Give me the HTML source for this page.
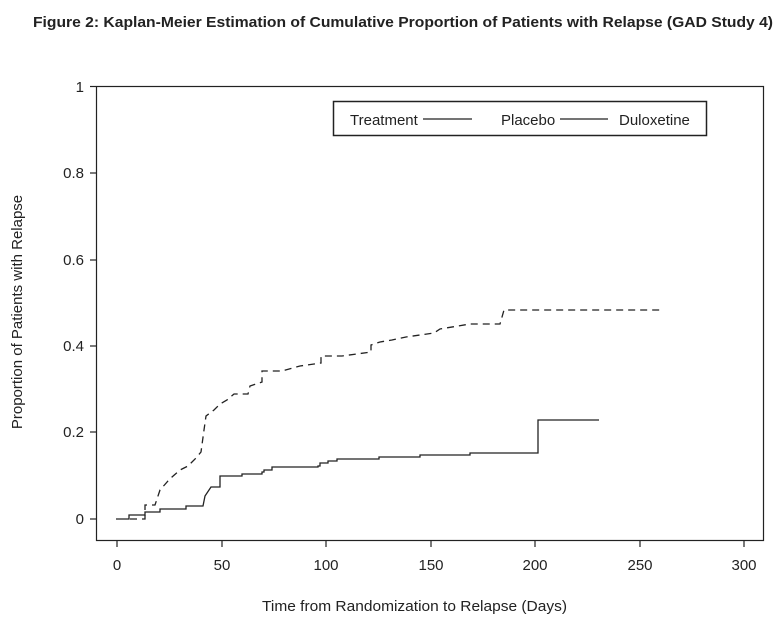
<!DOCTYPE html><html><head><style>body{margin:0;background:#fff}svg{display:block}text{font-family:"Liberation Sans",sans-serif;fill:#222}</style></head><body>
<svg width="778" height="623" viewBox="0 0 778 623">
<text x="33" y="27" font-size="15" font-weight="bold" textLength="740" lengthAdjust="spacingAndGlyphs">Figure 2: Kaplan-Meier Estimation of Cumulative Proportion of Patients with Relapse (GAD Study 4)</text>
<rect x="96.5" y="86.5" width="667" height="454" fill="none" stroke="#222" stroke-width="1.2"/>
<g stroke="#222" stroke-width="1.2">
<line x1="90" y1="86.5" x2="96" y2="86.5"/><line x1="90" y1="173" x2="96" y2="173"/><line x1="90" y1="260" x2="96" y2="260"/><line x1="90" y1="346" x2="96" y2="346"/><line x1="90" y1="432" x2="96" y2="432"/><line x1="90" y1="519" x2="96" y2="519"/>
<line x1="117" y1="541" x2="117" y2="547"/><line x1="222" y1="541" x2="222" y2="547"/><line x1="326" y1="541" x2="326" y2="547"/><line x1="431" y1="541" x2="431" y2="547"/><line x1="535" y1="541" x2="535" y2="547"/><line x1="640" y1="541" x2="640" y2="547"/><line x1="744" y1="541" x2="744" y2="547"/>
</g>
<g font-size="15" text-anchor="end"><text x="84" y="92">1</text><text x="84" y="178">0.8</text><text x="84" y="265">0.6</text><text x="84" y="351">0.4</text><text x="84" y="437">0.2</text><text x="84" y="524">0</text></g>
<g font-size="15" text-anchor="middle"><text x="117" y="570">0</text><text x="222" y="570">50</text><text x="326" y="570">100</text><text x="431" y="570">150</text><text x="535" y="570">200</text><text x="640" y="570">250</text><text x="744" y="570">300</text></g>
<text x="262" y="611" font-size="15" textLength="305" lengthAdjust="spacingAndGlyphs">Time from Randomization to Relapse (Days)</text>
<text transform="translate(22,312) rotate(-90)" font-size="15" text-anchor="middle">Proportion of Patients with Relapse</text>
<rect x="333.5" y="101.5" width="373" height="34" fill="#fff" stroke="#222" stroke-width="1.5"/>
<g font-size="15"><text x="350" y="125">Treatment</text><text x="501" y="125">Placebo</text><text x="619" y="125">Duloxetine</text></g>
<line x1="423" y1="119" x2="472" y2="119" stroke="#222" stroke-width="1.3"/>
<line x1="560" y1="119" x2="608" y2="119" stroke="#222" stroke-width="1.3"/>
<path fill="none" stroke="#222" stroke-width="1.3" d="M116,519H129V515H145V512H160V509H186V506H203L205,496L211,487H220V476H242V474H262V472H264V470H272V467H318V466H320V463H328V461H337V459H379V457H420V455H470V453H538V420H599"/>
<path fill="none" stroke="#222" stroke-width="1.3" stroke-dasharray="7,5" d="M130,519H145V505H155L160,490L168,481L172,477L180,470L188,466L196,458L201,452L204,430L206,416L214,410L220,404L227,400L234,394H248L250,386L262,382V371H282L300,366L321,363V356H342L371,352V345L380,342L392,340L406,337L434,333L440,329L470,324H500L504,310H663"/>
</svg></body></html>
